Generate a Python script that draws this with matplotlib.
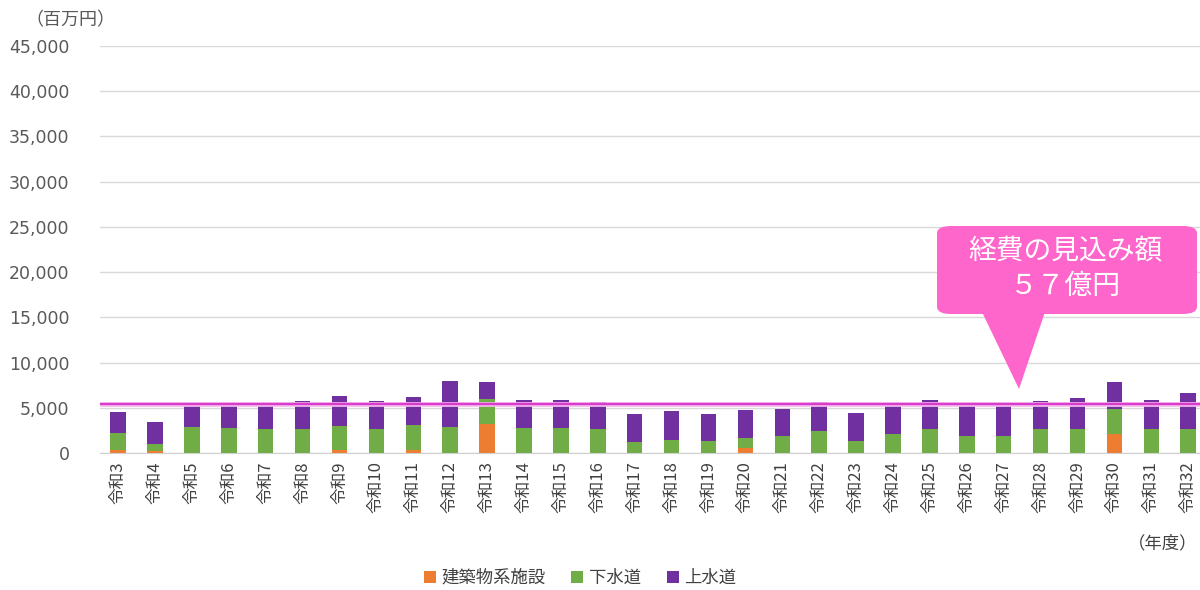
import matplotlib
matplotlib.use("Agg")
import matplotlib.pyplot as plt
import numpy as np
from matplotlib.patches import FancyBboxPatch, Polygon

plt.rcParams['font.family'] = ['Noto Sans CJK JP', 'DejaVu Sans']

# 年度ラベル
years = [f"令和{n}" for n in range(3, 33)]

# 分野別の更新等経費（百万円）
building = [300, 200, 0, 0, 0, 0, 300, 0, 350, 0,
            3180, 0, 0, 0, 0, 0, 0, 590, 0, 0,
            0, 0, 0, 0, 0, 0, 0, 2070, 0, 0]
sewer = [1880, 830, 2910, 2770, 2630, 2630, 2720, 2630, 2720, 2910,
         2840, 2740, 2740, 2630, 1250, 1470, 1290, 1110, 1880, 2470,
         1360, 2070, 2690, 1920, 1920, 2690, 2690, 2770, 2690, 2690]
water = [2360, 2440, 2390, 2530, 2570, 3130, 3260, 3130, 3130, 5070,
         1880, 3160, 3160, 2990, 3040, 3150, 3060, 3060, 3030, 3150,
         3110, 3230, 3210, 3380, 3280, 3110, 3370, 3030, 3210, 3990]

average_line = 5400
yticks = np.arange(0, 45001, 5000)

c_building = "#ED7D31"
c_sewer = "#70AD47"
c_water = "#7030A0"
c_line = "#DA3CCB"
c_callout = "#FF66CC"

fig = plt.figure(figsize=(12, 5.9), dpi=100)
ax = fig.add_axes([100/1200, 1-453/590, 1100/1200, (453-46)/590])

x = np.arange(len(years))
b = np.array(building)
s = np.array(sewer)
w = np.array(water)
width = 0.42
ax.bar(x, b, width, color=c_building, label="建築物系施設", zorder=2)
ax.bar(x, s, width, bottom=b, color=c_sewer, label="下水道", zorder=2)
ax.bar(x, w, width, bottom=b + s, color=c_water, label="上水道", zorder=2)

ax.axhline(average_line, color="#F5BDEF", lw=3.4, zorder=3)
ax.axhline(average_line, color=c_line, lw=1.7, zorder=3)

ax.set_ylim(0, 45000)
ax.set_xlim(-0.49, 29.32)
ax.set_yticks(yticks)
ax.set_yticklabels([f"{v:,}" for v in yticks], fontsize=12.5, color="#595959",
                   family=['DejaVu Sans'])
ax.set_xticks(x)
ax.set_xticklabels(years, rotation=90, fontsize=12, color="#404040")
ax.tick_params(axis='both', length=0)
ax.tick_params(axis='y', pad=22)
ax.tick_params(axis='x', pad=6)
ax.grid(axis='y', color="#D9D9D9", lw=1, zorder=0)
for side in ["top", "right", "left"]:
    ax.spines[side].set_visible(False)
ax.spines["bottom"].set_color("#D0D0D0")

fig.text(25/1200, 1-20/590, "（百万円）", fontsize=13, color="#595959",
         ha="left", va="center")
fig.text(1163/1200, 1-543/590, "（年度）", fontsize=12.5, color="#404040",
         ha="center", va="center")

leg = fig.legend(loc="center", bbox_to_anchor=(580/1200, 1-578/590), ncol=3,
                 frameon=False, fontsize=12.5, handlelength=0.7, handleheight=0.7,
                 handletextpad=0.3, columnspacing=1.5)
for t in leg.get_texts():
    t.set_color("#404040")

# 吹き出し
def fp(px, py):
    return (px / 1200, 1 - py / 590)

bx0, by0 = fp(937, 314)
bx1, by1 = fp(1197, 226)
box = FancyBboxPatch((bx0, by0), bx1 - bx0, by1 - by0,
                     boxstyle="round,pad=0,rounding_size=0.012",
                     transform=fig.transFigure, facecolor=c_callout,
                     edgecolor="none", zorder=5)
fig.add_artist(box)
tri = Polygon([fp(982, 312), fp(1045, 312), fp(1019, 389)], closed=True,
              transform=fig.transFigure, facecolor=c_callout, edgecolor="none",
              zorder=5)
fig.add_artist(tri)
fig.text(*fp(1065, 250), "経費の見込み額", fontsize=20, color="white",
         ha="center", va="center", zorder=6)
fig.text(*fp(1065, 286), "５７億円", fontsize=20, color="white",
         ha="center", va="center", zorder=6)

fig.savefig("out.png", dpi=100, facecolor="white")
